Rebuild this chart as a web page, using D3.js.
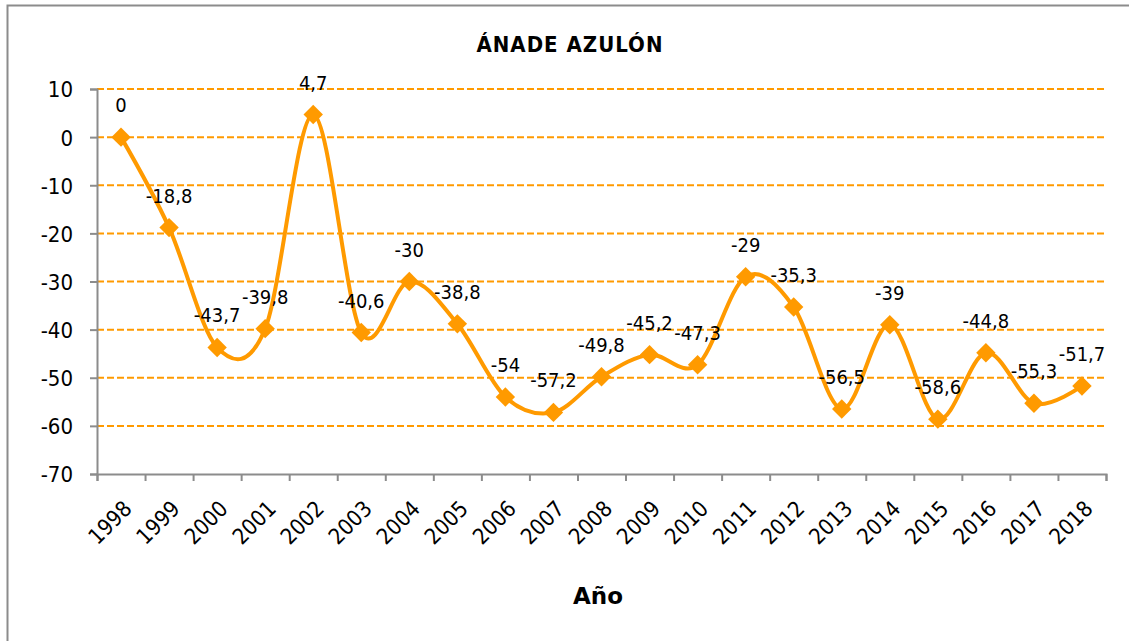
<!DOCTYPE html>
<html>
<head>
<meta charset="utf-8">
<script src="https://cdn.jsdelivr.net/npm/d3@7"></script>
<style>
  body { margin: 0; background: #fff; }
  text { font-family: "DejaVu Sans Condensed", "DejaVu Sans", sans-serif; fill: #000; }
</style>
</head>
<body>
<div id="chart"></div>
<script>
const FRAME_WIDTH = 1129;
const FRAME_HEIGHT = 641;
const MARGIN = {left: 97, right: 23, top: 89, bottom: 167};

// data
const years = ["1998","1999","2000","2001","2002","2003","2004","2005","2006","2007","2008",
               "2009","2010","2011","2012","2013","2014","2015","2016","2017","2018"];
const values = [0, -18.8, -43.7, -39.8, 4.7, -40.6, -30, -38.8, -54, -57.2, -49.8,
                -45.2, -47.3, -29, -35.3, -56.5, -39, -58.6, -44.8, -55.3, -51.7];
const yTicks = [10, 0, -10, -20, -30, -40, -50, -60, -70];

const ORANGE = "#ff9a00";
const GREY = "#8c8c8c";

const FRAME = d3.select("#chart")
  .append("svg")
    .attr("width", FRAME_WIDTH)
    .attr("height", FRAME_HEIGHT);

// outer border of the chart area
FRAME.append("rect")
  .attr("x", 7.5).attr("y", 5.5)
  .attr("width", 1140).attr("height", 650)
  .attr("fill", "none")
  .attr("stroke", GREY)
  .attr("stroke-width", 2);

const VIS_WIDTH = FRAME_WIDTH - MARGIN.left - MARGIN.right;
const VIS_HEIGHT = FRAME_HEIGHT - MARGIN.top - MARGIN.bottom;

const X_SCALE = d3.scaleBand()
  .domain(years)
  .range([MARGIN.left, MARGIN.left + VIS_WIDTH]);

const X_EDGE = d3.scaleLinear()
  .domain([0, years.length])
  .range([MARGIN.left, MARGIN.left + VIS_WIDTH]);

const Y_SCALE = d3.scaleLinear()
  .domain([-70, 10])
  .range([MARGIN.top + VIS_HEIGHT, MARGIN.top]);

// dashed gridlines
FRAME.append("g")
  .selectAll("line")
  .data(yTicks.filter(d => d !== -70))
  .enter()
  .append("line")
    .attr("x1", MARGIN.left)
    .attr("x2", MARGIN.left + VIS_WIDTH)
    .attr("y1", d => Y_SCALE(d))
    .attr("y2", d => Y_SCALE(d))
    .attr("stroke", ORANGE)
    .attr("stroke-width", 2)
    .attr("stroke-dasharray", "7,3");

// y axis
const yAxis = FRAME.append("g")
  .attr("transform", "translate(" + MARGIN.left + ",0)")
  .call(d3.axisLeft(Y_SCALE).tickValues(yTicks).tickSize(7).tickPadding(17).tickFormat(d => d));
yAxis.selectAll("text").attr("font-size", "22px").attr("dy", "0.36em");

// x axis: ticks on category edges
const xAxis = FRAME.append("g")
  .attr("transform", "translate(0," + (MARGIN.top + VIS_HEIGHT) + ")")
  .call(d3.axisBottom(X_EDGE).tickValues(d3.range(years.length + 1)).tickSize(7).tickFormat(""));

// x labels at category centres
const xLabels = FRAME.append("g")
  .attr("transform", "translate(0," + (MARGIN.top + VIS_HEIGHT) + ")")
  .call(d3.axisBottom(X_SCALE).tickSize(0));
xLabels.select(".domain").remove();
xLabels.selectAll("text")
  .attr("font-size", "22px")
  .attr("text-anchor", "end")
  .attr("dy", 0)
  .attr("transform", "translate(10,34) rotate(-45)");

FRAME.selectAll(".domain, .tick line")
  .attr("stroke", GREY)
  .attr("stroke-width", 2);

// smoothed line
const line = d3.line()
  .x((d, i) => X_SCALE(years[i]) + X_SCALE.bandwidth() / 2)
  .y(d => Y_SCALE(d))
  .curve(d3.curveCardinal.tension(0));

FRAME.append("path")
  .datum(values)
  .attr("d", line)
  .attr("fill", "none")
  .attr("stroke", ORANGE)
  .attr("stroke-width", 4);

// diamond markers
FRAME.selectAll(".point")
  .data(values)
  .enter()
  .append("path")
    .attr("class", "point")
    .attr("d", d3.symbol().type(d3.symbolDiamond2).size(240))
    .attr("transform", (d, i) => "translate(" + (X_SCALE(years[i]) + X_SCALE.bandwidth() / 2) + "," + Y_SCALE(d) + ")")
    .attr("fill", ORANGE);

// data labels
FRAME.selectAll(".label")
  .data(values)
  .enter()
  .append("text")
    .attr("class", "label")
    .attr("x", (d, i) => X_SCALE(years[i]) + X_SCALE.bandwidth() / 2)
    .attr("y", d => Y_SCALE(d) - 25)
    .attr("text-anchor", "middle")
    .attr("font-size", "20px")
    .text(d => String(d).replace(".", ","));

// title
FRAME.append("text")
  .attr("x", 570)
  .attr("y", 52)
  .attr("text-anchor", "middle")
  .attr("font-size", "22px")
  .attr("font-weight", "bold")
  .attr("letter-spacing", "1px")
  .text("ÁNADE AZULÓN");

// x axis title
FRAME.append("text")
  .attr("x", 598)
  .attr("y", 604)
  .attr("text-anchor", "middle")
  .attr("font-size", "23px")
  .attr("font-weight", "bold")
  .style("font-family", "DejaVu Sans")
  .text("Año");
</script>
</body>
</html>
